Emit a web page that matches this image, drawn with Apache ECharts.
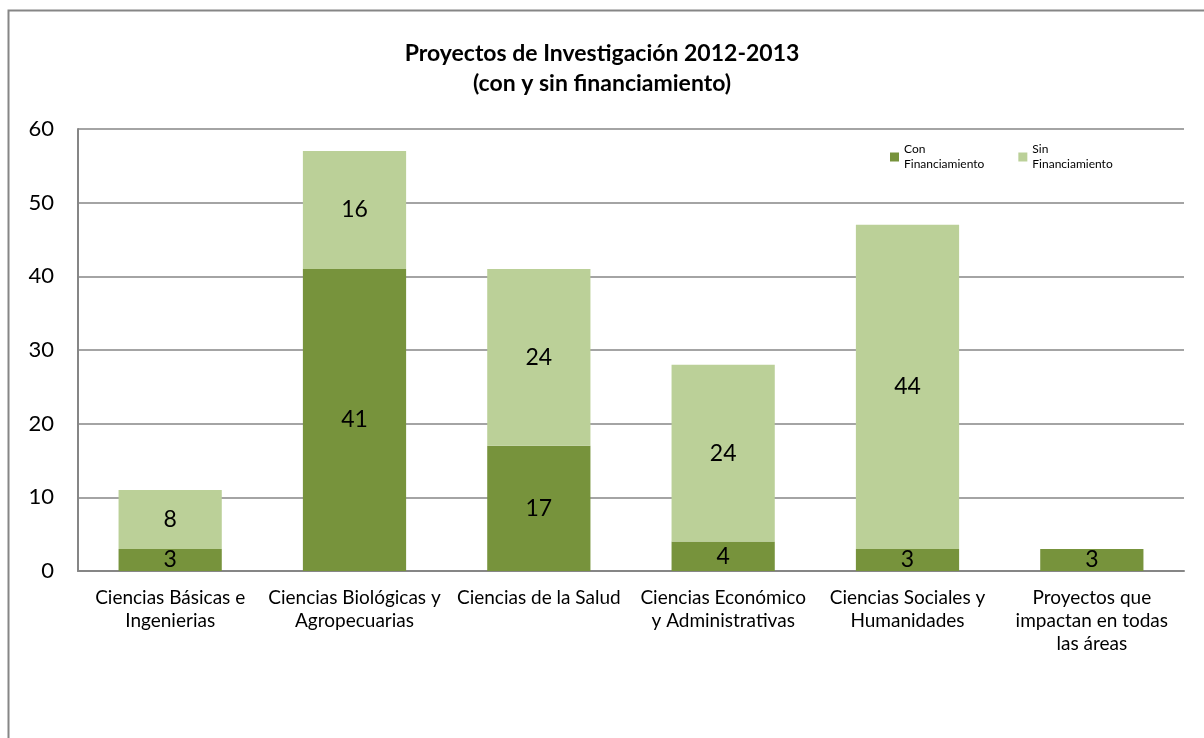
<!DOCTYPE html>
<html><head><meta charset="utf-8">
<script src="https://cdn.jsdelivr.net/npm/echarts@6/dist/echarts.min.js"></script>
<style>html,body{margin:0;padding:0;background:#fff}#c{width:1204px;height:738px}</style>
</head><body><div id="c"></div>
<script>
const categories = ["Ciencias Básicas e\nIngenierias","Ciencias Biológicas y\nAgropecuarias","Ciencias de la Salud","Ciencias Económico\ny Administrativas","Ciencias Sociales y\nHumanidades","Proyectos que\nimpactan en todas\nlas áreas"];
const conFin = [3,41,17,4,3,3];
const sinFin = [8,16,24,24,44,0];
const seriesNames = ["Con\nFinanciamiento","Sin\nFinanciamiento"];
const FONT = "Lato, 'Open Sans', sans-serif";
const chart = echarts.init(document.getElementById('c'));
const lbl = {show:true, position:'inside', color:'#000', fontSize:23, fontFamily:FONT, formatter:p=>p.value?String(p.value):''};
chart.setOption({
  animation:false,
  title:{text:'Proyectos de Investigación 2012-2013\n(con y sin financiamiento)', left:'center', top:34,
    textStyle:{fontSize:23, fontWeight:'bold', fontFamily:FONT, color:'#000', lineHeight:30}},
  graphic:[{type:'rect', shape:{x:8.5,y:10.5,width:1220,height:760}, style:{fill:null, stroke:'#868686', lineWidth:2}}],
  legend:{left:885, top:137, itemGap:34, itemWidth:9, itemHeight:9, icon:'rect',
    textStyle:{fontSize:12, fontFamily:FONT, color:'#000', lineHeight:15}},
  grid:{left:78, top:129, width:1106, height:442},
  xAxis:{type:'category', data:categories,
    axisLine:{lineStyle:{color:'#868686', width:2}}, axisTick:{show:false},
    axisLabel:{fontSize:19, fontFamily:FONT, color:'#000', lineHeight:23, margin:15, interval:0}},
  yAxis:{type:'value', min:0, max:60, interval:10,
    axisLine:{show:true, lineStyle:{color:'#868686', width:2}}, axisTick:{show:false},
    splitLine:{lineStyle:{color:'#868686', width:1.5}},
    axisLabel:{fontSize:22, fontFamily:FONT, color:'#000', margin:24}},
  series:[
    {name:seriesNames[0], type:'bar', stack:'a', data:conFin, barCategoryGap:'44%', itemStyle:{color:'#77933C'}, label:lbl},
    {name:seriesNames[1], type:'bar', stack:'a', data:sinFin, itemStyle:{color:'#BBD098'}, label:lbl}
  ]
});
</script></body></html>
